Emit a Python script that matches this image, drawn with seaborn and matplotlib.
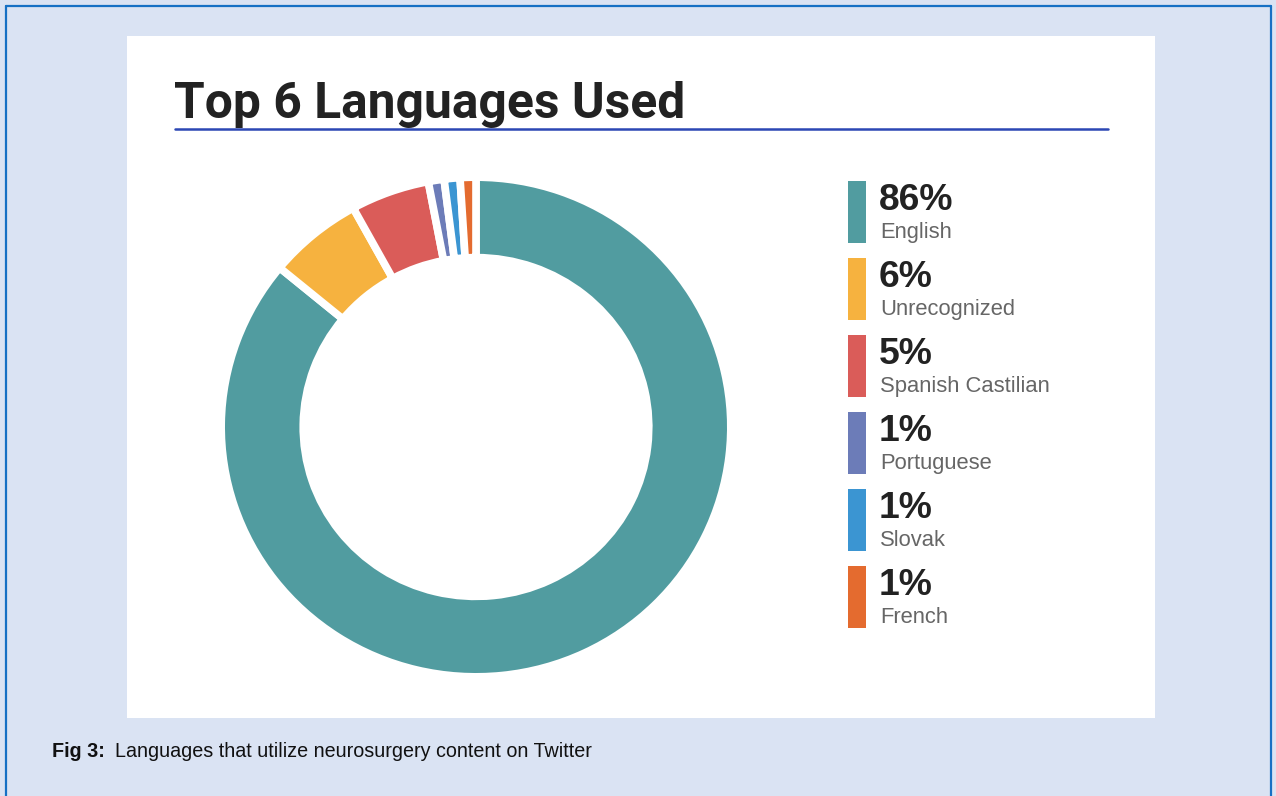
import matplotlib
matplotlib.use("Agg")
import matplotlib.pyplot as plt
import seaborn as sns
from matplotlib.patches import Rectangle
from matplotlib.lines import Line2D

languages = ["English", "Unrecognized", "Spanish Castilian", "Portuguese", "Slovak", "French"]
shares = [86, 6, 5, 1, 1, 1]
colors = ["#519CA0", "#F6B23F", "#DA5C59", "#6C7CB8", "#3B95D2", "#E46B2F"]

sns.set_theme(style="white")
plt.rcParams['font.family'] = ['Liberation Sans', 'DejaVu Sans']

W, H = 1276, 796
fig = plt.figure(figsize=(W / 100, H / 100), dpi=100, facecolor="#DAE3F3")

def fx(x):
    return x / W

def fy(y):
    return 1 - y / H

# white panel
fig.patches.append(Rectangle((fx(127), fy(718)), fx(1155) - fx(127), fy(36) - fy(718),
                             transform=fig.transFigure, facecolor="white", edgecolor="none", zorder=-5))
# outer border (top, left, right)
bc = "#1670C4"
fig.add_artist(Line2D([fx(6), fx(1271)], [fy(6), fy(6)], color=bc, lw=1.6, transform=fig.transFigure))
fig.add_artist(Line2D([fx(6), fx(6)], [fy(6), 0], color=bc, lw=1.6, transform=fig.transFigure))
fig.add_artist(Line2D([fx(1271), fx(1271)], [fy(6), 0], color=bc, lw=1.6, transform=fig.transFigure))

# title
fig.text(fx(174), fy(118), "Top 6 Languages Used", fontsize=35.8, fontweight="bold",
         family=["Roboto", "DejaVu Sans"], color="#222222", ha="left", va="baseline")
fig.add_artist(Line2D([fx(175), fx(1108)], [fy(129), fy(129)], color="#2C47B4", lw=1.8,
                      transform=fig.transFigure))

# donut
lw_pt = 5.5
half = lw_pt * 100 / 72 / 2
cx, cy = 476, 427
Rx, Ry = 251 + half, 246 + half
pad = 1.03
wpx, hpx = 2 * Rx * pad, 2 * Ry * pad
ax = fig.add_axes([fx(cx - wpx / 2), fy(cy + hpx / 2), wpx / W, hpx / H])
ax.patch.set_visible(False)
ax.pie(shares, colors=colors, startangle=90, counterclock=False, radius=1,
       wedgeprops=dict(width=0.322, edgecolor="white", linewidth=lw_pt))
ax.set_xlim(-pad, pad)
ax.set_ylim(-pad, pad)
ax.set_aspect("auto")
ax.axis("off")

# legend
top0, step, bh = 181, 77, 62
for i, (lang, s, c) in enumerate(zip(languages, shares, colors)):
    y0 = top0 + i * step
    fig.patches.append(Rectangle((fx(848), fy(y0 + bh)), fx(866) - fx(848), fy(y0) - fy(y0 + bh),
                                 transform=fig.transFigure, facecolor=c, edgecolor="none"))
    fig.text(fx(879), fy(y0 + 29), f"{s}%", fontsize=26.8, fontweight="bold",
             color="#222222", ha="left", va="baseline")
    fig.text(fx(880), fy(y0 + 57), lang, fontsize=15.8, color="#666666", ha="left", va="baseline")

# caption
cap_fam = ["Liberation Sans Narrow", "Liberation Sans", "DejaVu Sans"]
fig.text(fx(52), fy(757), "Fig 3:", fontsize=14.2, fontweight="bold", family=cap_fam,
         color="#111111", ha="left", va="baseline")
fig.text(fx(115), fy(757), "Languages that utilize neurosurgery content on Twitter", fontsize=14.2,
         family=cap_fam, color="#111111", ha="left", va="baseline")

fig.savefig("out.png", dpi=100, facecolor=fig.get_facecolor())
